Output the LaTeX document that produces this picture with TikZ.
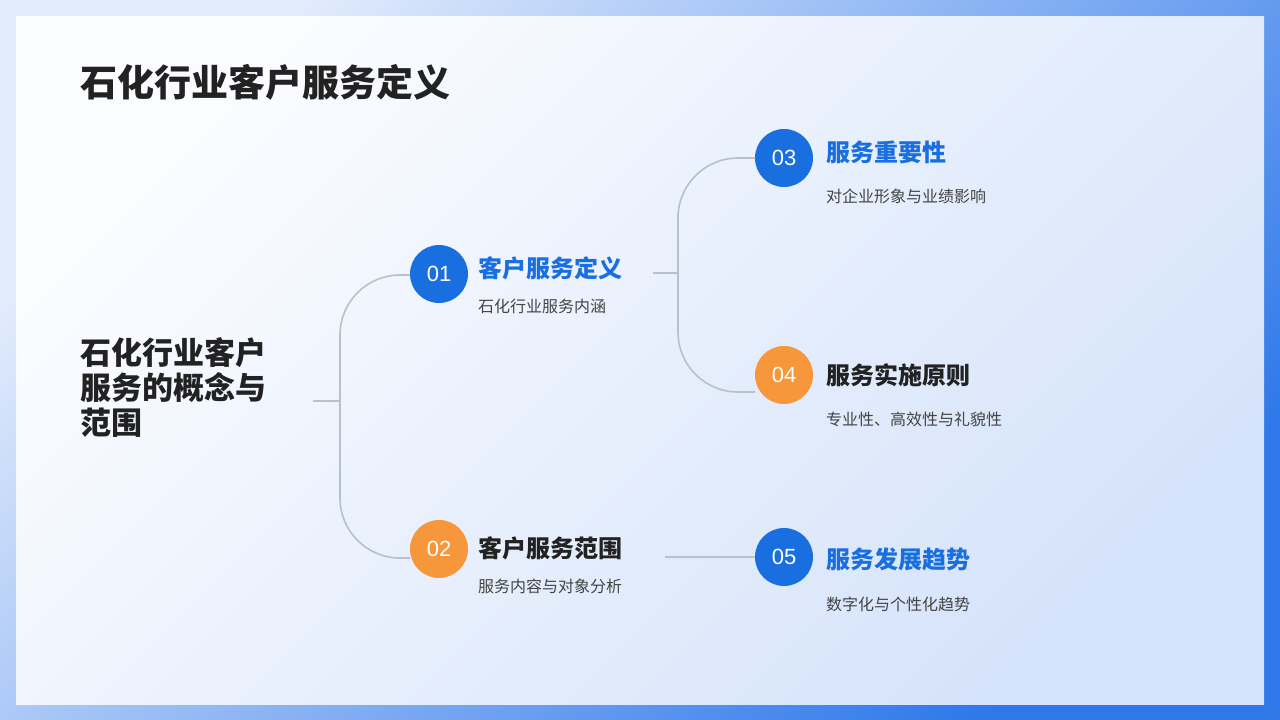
\documentclass[tikz,border=0pt]{standalone}
\usepackage{fontspec}
\setmainfont{Noto Sans CJK SC}
\newfontfamily\digitfont{Liberation Sans}
\usetikzlibrary{positioning}
\definecolor{mainblue}{HTML}{1A6FE0}
\definecolor{mainorange}{HTML}{F5973A}
\definecolor{darktext}{HTML}{222222}
\definecolor{subtext}{HTML}{444444}
\definecolor{linegray}{HTML}{B8C0CC}
\definecolor{frameA}{HTML}{E3ECFC}
\definecolor{frameB}{HTML}{2E78EA}
\definecolor{panelA}{HTML}{FBFCFF}
\definecolor{panelB}{HTML}{D5E3FA}
\tikzset{
  badge/.style={circle,minimum size=58pt,inner sep=0pt,text=white,font=\digitfont\fontsize{22}{22}\selectfont},
  headline/.style={anchor=west,inner sep=0pt,font=\fontsize{24}{24}\selectfont\bfseries},
  subline/.style={anchor=west,inner sep=0pt,text=subtext,font=\fontsize{16}{16}\selectfont},
  branch/.style={draw=linegray,line width=1.6pt,rounded corners=60pt}
}
\begin{document}
\begin{tikzpicture}[x=1pt,y=-1pt]
  \useasboundingbox (0,0) rectangle (1280,720);
  \shade[left color=frameA,right color=frameB,shading angle=45] (0,0) rectangle (1280,720);
  \shade[left color=panelA,right color=panelB,shading angle=45] (16,16) rectangle (1264,704);
  % title
  \node[anchor=west,inner sep=0pt,text=darktext,font=\fontsize{37}{37}\selectfont\bfseries] (title) at (80,82) {石化行业客户服务定义};
  \node[anchor=west,align=left,inner sep=0pt,text=darktext,font=\fontsize{31}{35}\selectfont\bfseries] (root) at (80,387) {石化行业客户\\服务的概念与\\范围};
  % level one
  \node[badge,fill=mainblue]   (b1) at (439,274) {01};
  \node[badge,fill=mainorange] (b2) at (439,549) {02};
  \node[headline,text=mainblue] (h1) at (478,268) {客户服务定义};
  \node[subline] (s1) at (478,306) {石化行业服务内涵};
  \node[headline,text=darktext] (h2) at (478,548) {客户服务范围};
  \node[subline] (s2) at (478,586) {服务内容与对象分析};
  % level two
  \node[badge,fill=mainblue]   (b3) at (784,158) {03};
  \node[badge,fill=mainorange] (b4) at (784,375) {04};
  \node[badge,fill=mainblue]   (b5) at (784,557) {05};
  \node[headline,text=mainblue] (h3) at (826,152) {服务重要性};
  \node[subline] (s3) at (826,196) {对企业形象与业绩影响};
  \node[headline,text=darktext] (h4) at (826,375) {服务实施原则};
  \node[subline] (s4) at (826,419) {专业性、高效性与礼貌性};
  \node[headline,text=mainblue] (h5) at (826,559) {服务发展趋势};
  \node[subline] (s5) at (826,604) {数字化与个性化趋势};
  % connectors
  \coordinate (r0) at (313,401);
  \coordinate (r1) at (340,401);
  \coordinate (t1) at (410,275);
  \coordinate (t2) at (410,558);
  \draw[branch] (r0) -- (r1);
  \draw[branch] (t1) -| (r1) |- (t2);
  \coordinate (m0) at (653,273);
  \coordinate (m1) at (678,273);
  \coordinate (u3) at (755,158);
  \coordinate (u4) at (755,392);
  \draw[branch] (m0) -- (m1);
  \draw[branch] (u3) -| (m1) |- (u4);
  \coordinate (n0) at (665,557);
  \draw[branch] (n0) -- (b5.west);
\end{tikzpicture}
\end{document}
